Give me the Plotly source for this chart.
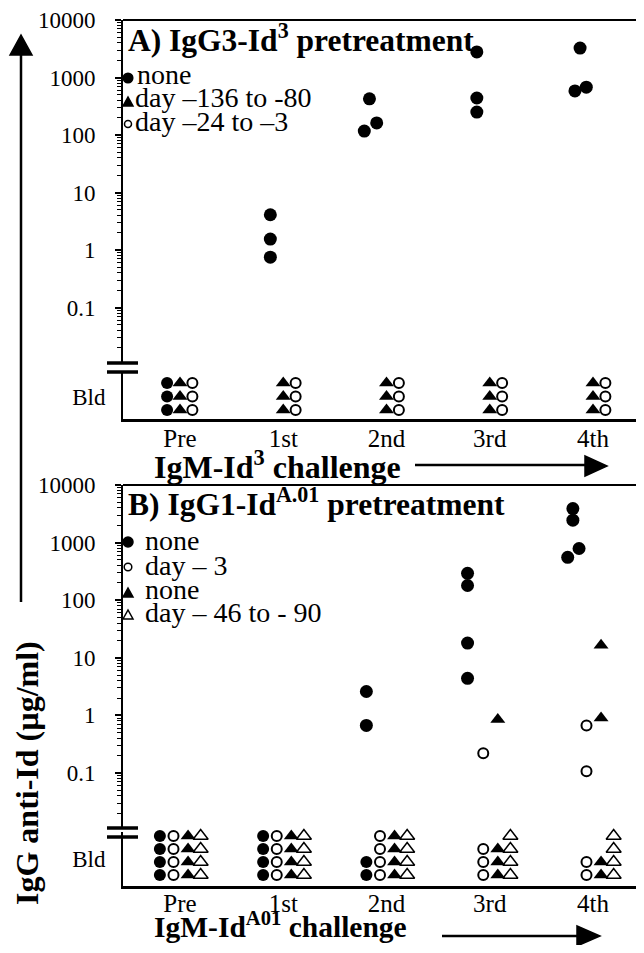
import plotly.graph_objects as go

# The page body adds an 8px margin, so the figure is drawn 8px smaller on each side
# and the helpers below convert reference (window) pixels to paper coordinates.
OFF = 8
W, H = 644 - 2 * OFF, 953 - 2 * OFF


def px(x):
    return (x - OFF) / W


def py(y):
    return 1 - (y - OFF) / H


FONT = "Liberation Serif"

# ---------------- data ----------------
categories = ["Pre", "1st", "2nd", "3rd", "4th"]
ytick_vals = [0.1, 1, 10, 100, 1000, 10000]
ytick_text = ["0.1", "1", "10", "100", "1000", "10000"]

# Panel A: IgG3-Id3 pretreatment (IgG anti-Id, ug/ml) per challenge
a_none_vals = [[], [4.1, 1.55, 0.75], [425, 162, 117], [2780, 440, 250], [3250, 585, 680]]
# number of animals below detection limit (Bld) per challenge
a_none_bld = [3, 0, 0, 0, 0]
a_early_bld = [3, 3, 3, 3, 3]   # day -136 to -80 (filled triangles)
a_late_bld = [3, 3, 3, 3, 3]    # day -24 to -3 (open circles)

# Panel B: IgG1-IdA.01 pretreatment
b_none_vals = [[], [], [2.6, 0.67], [293, 180, 18, 4.4], [3900, 2450, 790, 555]]
b_day3_vals = [[], [], [], [0.22], [0.67, 0.107]]
b_none2_vals = [[], [], [], [0.85], [16.5, 0.9]]
b_day46_vals = [[], [], [], [], []]
b_none_bld = [4, 4, 2, 0, 0]
b_day3_bld = [4, 4, 4, 3, 2]
b_none2_bld = [4, 4, 4, 3, 2]
b_day46_bld = [4, 4, 4, 4, 4]

# ---------------- style (horizontal spread of overlapping points) ----------------
a_none_jit = [[], [0, 0, 0], [-0.04, 0.03, -0.09], [0, 0, 0], [0, -0.05, 0.06]]
b_none_jit = [[], [], [0, 0], [-0.02, -0.02, -0.02, -0.02], [0, 0, 0.06, -0.05]]
b_day3_jit = [[], [], [], [0], [0, 0]]
b_none2_jit = [[], [], [], [0], [0, 0]]
b_day46_jit = [[], [], [], [], []]

fig = go.Figure()


def add_vals(vals, jit, offset, xa, ya, marker):
    xs, ys = [], []
    for i, (vs, js) in enumerate(zip(vals, jit)):
        for v, j in zip(vs, js):
            xs.append(i + offset + j)
            ys.append(v)
    fig.add_trace(go.Scatter(x=xs, y=ys, mode="markers", marker=marker, xaxis=xa, yaxis=ya,
                             showlegend=False, hoverinfo="skip", cliponaxis=False))


def add_bld(counts, offset, xa, ya, marker):
    xs, ys = [], []
    for i, n in enumerate(counts):
        for k in range(n):
            xs.append(i + offset)
            ys.append(k)
    fig.add_trace(go.Scatter(x=xs, y=ys, mode="markers", marker=marker, xaxis=xa, yaxis=ya,
                             showlegend=False, hoverinfo="skip", cliponaxis=False))


filled_c = dict(symbol="circle", size=13, color="black")
filled_c_s = dict(symbol="circle", size=12, color="black")
filled_t = dict(symbol="triangle-up", size=13, color="black")
open_c = dict(symbol="circle-open", size=10, color="black", line=dict(width=2))
open_t = dict(symbol="triangle-up-open", size=13, color="black", line=dict(width=1.5))

# Panel A
add_vals(a_none_vals, a_none_jit, -0.125, "x", "y", filled_c)
add_bld(a_none_bld, -0.125, "x", "y2", filled_c_s)
add_bld(a_early_bld, 0.0, "x", "y2", filled_t)
add_bld(a_late_bld, 0.12, "x", "y2", open_c)

# Panel B
ob = [-0.195, -0.063, 0.078, 0.2]
add_vals(b_none_vals, b_none_jit, ob[0], "x2", "y3", filled_c)
add_vals(b_day3_vals, b_day3_jit, ob[1], "x2", "y3", open_c)
add_vals(b_none2_vals, b_none2_jit, ob[2], "x2", "y3", filled_t)
add_vals(b_day46_vals, b_day46_jit, ob[3], "x2", "y3", open_t)
add_bld(b_none_bld, ob[0], "x2", "y4", filled_c_s)
add_bld(b_day3_bld, ob[1], "x2", "y4", open_c)
add_bld(b_none2_bld, ob[2], "x2", "y4", filled_t)
add_bld(b_day46_bld, ob[3], "x2", "y4", open_t)

minor_vals = [m * 10 ** e for e in range(-2, 4) for m in range(2, 10)]

X0, XR = 123, 644 - OFF
cat0, catstep = 180, 103.25
xcommon = dict(domain=[px(X0), 1], range=[(X0 - cat0) / catstep, (XR - cat0) / catstep],
               showline=True, linecolor="black",
               linewidth=2.5, ticks="", showgrid=False, zeroline=False, tickmode="array",
               tickvals=list(range(len(categories))), ticktext=categories, automargin=False,
               ticklabelstandoff=-5,
               tickfont=dict(family=FONT, size=25, color="black"))


def ylog(top, bottom, dec, anchor):
    return dict(type="log", domain=[py(bottom), py(top)], range=[4 - (bottom - top) / dec, 4],
                anchor=anchor, showline=True, linecolor="black", linewidth=2, ticks="outside",
                ticklen=6, tickwidth=1.5, tickcolor="black", tickmode="array", tickvals=ytick_vals,
                ticktext=ytick_text, ticklabelstandoff=15, automargin=False,
                minor=dict(ticks="outside", ticklen=4, tickwidth=1, tickcolor="black",
                           tickvals=minor_vals, showgrid=False),
                showgrid=False, zeroline=False, tickfont=dict(family=FONT, size=23, color="black"))


def ybld(top, bottom, rng, lab, anchor):
    return dict(domain=[py(bottom), py(top)], range=rng, anchor=anchor, showline=True,
                linecolor="black", linewidth=2, ticks="", showgrid=False, zeroline=False,
                tickmode="array", tickvals=[lab], ticktext=["Bld"], ticklabelstandoff=11,
                automargin=False, tickfont=dict(family=FONT, size=23, color="black"))


fig.update_layout(
    template="none",
    width=W, height=H, margin=dict(l=0, r=0, t=0, b=0, pad=0),
    paper_bgcolor="white", plot_bgcolor="white",
    xaxis=dict(xcommon, anchor="y2"),
    xaxis2=dict(xcommon, anchor="y4", ticklabelstandoff=-7),
    yaxis=ylog(20, 362, 57.5, "x"),
    yaxis2=ybld(372, 419, [-0.667, 2.81], 1, "x"),
    yaxis3=ylog(485, 827, 57.6, "x2"),
    yaxis4=ybld(832, 886, [-0.846, 3.31], 1.2, "x2"),
)

ann = []


def text(x, y, s, size, bold=False, anchor="left", angle=0):
    ann.append(dict(x=px(x), y=py(y), xref="paper", yref="paper", text=("<b>%s</b>" % s) if bold else s,
                    showarrow=False, xanchor=anchor, yanchor="middle", textangle=angle,
                    font=dict(family=FONT, size=size, color="black")))


text(126, 38, "A) IgG3-Id<sup>3</sup> pretreatment", 31.5, bold=True)
text(126, 502, "B) IgG1-Id<sup>A.01</sup> pretreatment", 31.5, bold=True)
text(135, 74, "none", 28)
text(133, 98, "day \u2013136 to -80", 28)
text(133, 122, "day \u201324 to \u20133", 28)
text(143, 540, "none", 28)
text(143, 565, "day \u2013 3", 28)
text(143, 589, "none", 28)
text(143, 612, "day \u2013 46 to - 90", 28)
text(152, 465, "IgM-Id<sup>3</sup> challenge", 32, bold=True)
text(152, 925, "IgM-Id<sup>A01</sup> challenge", 29.5, bold=True)
text(27, 773, "IgG anti-Id (\u00b5g/ml)", 32, bold=True, anchor="center", angle=-90)
fig.update_layout(annotations=ann)

shapes = []


def line(x0, y0, x1, y1, w):
    shapes.append(dict(type="line", xref="paper", yref="paper", x0=px(x0), y0=py(y0), x1=px(x1), y1=py(y1),
                       line=dict(color="black", width=w)))


def tri(pts, filled=True):
    p = "M " + " L ".join("%f,%f" % (px(a), py(b)) for a, b in pts) + " Z"
    shapes.append(dict(type="path", xref="paper", yref="paper", path=p,
                       fillcolor="black" if filled else "white", line=dict(color="black", width=1.5)))


def circ(cx, cy, r, filled=True):
    shapes.append(dict(type="circle", xref="paper", yref="paper", x0=px(cx - r), x1=px(cx + r),
                       y0=py(cy + r), y1=py(cy - r), fillcolor="black" if filled else "white",
                       line=dict(color="black", width=1.5)))


# frame tops
line(123, 20, 644, 20, 2)
line(123, 485, 644, 485, 2)
# axis breaks
for yy in (363, 372, 828, 837):
    line(107, yy, 138, yy, 3.5)
# arrows
line(415, 465, 588, 465, 2.5)
tri([(585, 456), (607, 466), (585, 476)])
line(442, 936, 580, 936, 2.5)
tri([(577, 926), (600, 936), (577, 946)])
line(21, 602, 21, 52, 2.5)
tri([(10, 55), (21, 35), (32, 55)])
# legend symbols
circ(128, 78, 4.8)
tri([(123, 106), (128, 97), (133, 106)])
circ(128, 124, 3.5, filled=False)
circ(128, 542, 5)
circ(128, 567, 3.8, filled=False)
tri([(123, 597), (128, 588), (133, 597)])
tri([(123, 619), (128, 610), (133, 619)], filled=False)
fig.update_layout(shapes=shapes)

fig.write_html("out.html")
